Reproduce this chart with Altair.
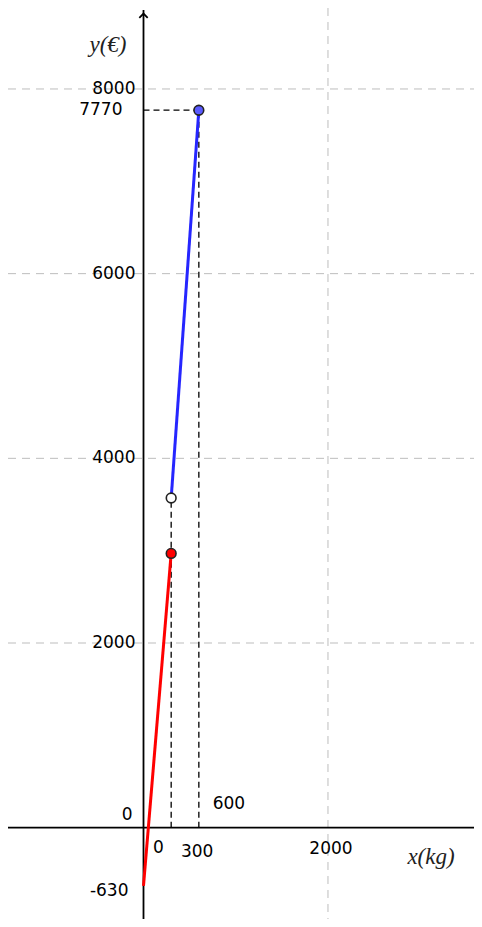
import altair as alt
import pandas as pd

# data
red_x = [0, 300]
red_y = [-630, 2970]
blue_x = [300, 600]
blue_y = [3570, 7770]
grid_y = [2000, 4000, 6000, 8000]
grid_x = [2000]
ytick_vals = [2000, 4000, 6000, 8000]
xtick_labels = ["0", "300", "600", "2000"]
xtick_vals = [0, 300, 600, 2000]
special_y = [7770, 0, -630]
special_y_labels = ["7770", "0", "-630"]

XMIN, XMAX = -1469, 3583
YMIN, YMAX = -989, 8877
W, H = 466, 911

xs = alt.Scale(domain=[XMIN, XMAX], nice=False, zero=False)
ys = alt.Scale(domain=[YMIN, YMAX], nice=False, zero=False)
X = lambda f: alt.X(f, type="quantitative", scale=xs, axis=None)
Y = lambda f: alt.Y(f, type="quantitative", scale=ys, axis=None)

FONT = "DejaVu Sans"
FS = 17

# grid lines
hgrid = alt.Chart(pd.DataFrame({"y": grid_y})).mark_rule(
    color="#bdbdbd", strokeWidth=1, strokeDash=[8, 6]
).encode(y=Y("y"), x=alt.value(0), x2=alt.value(W))
vgrid = alt.Chart(pd.DataFrame({"x": grid_x})).mark_rule(
    color="#bdbdbd", strokeWidth=1, strokeDash=[8, 6]
).encode(x=X("x"), y=alt.value(0), y2=alt.value(H))

# axes
xaxis = alt.Chart(pd.DataFrame({"y": [0]})).mark_rule(color="black", strokeWidth=1.8).encode(
    y=Y("y"), x=alt.value(0), x2=alt.value(W))
yaxis = alt.Chart(pd.DataFrame({"x": [0]})).mark_rule(color="black", strokeWidth=1.8).encode(
    x=X("x"), y=alt.value(2), y2=alt.value(H))
arrow = alt.Chart(pd.DataFrame({"x": [0]})).mark_point(
    shape="M-1,0.9L0,-0.1L1,0.9", filled=False, color="black", strokeWidth=1.8, size=70, opacity=1
).encode(x=X("x"), y=alt.value(6))

# dashed helper lines
dash_df = pd.DataFrame({
    "x": [red_x[1], blue_x[1], 0],
    "x2": [red_x[1], blue_x[1], blue_x[1]],
    "y": [0, 0, blue_y[1]],
    "y2": [blue_y[0], blue_y[1], blue_y[1]],
})
dashes = alt.Chart(dash_df).mark_rule(color="black", strokeWidth=1.3, strokeDash=[6, 4]).encode(
    x=X("x"), x2="x2", y=Y("y"), y2="y2")

# segments
red_line = alt.Chart(pd.DataFrame({"x": red_x, "y": red_y})).mark_line(
    color="#ff0000", strokeWidth=3).encode(x=X("x"), y=Y("y"))
blue_line = alt.Chart(pd.DataFrame({"x": blue_x, "y": blue_y})).mark_line(
    color="#2626ff", strokeWidth=3).encode(x=X("x"), y=Y("y"))

# points
pts_df = pd.DataFrame({
    "x": [red_x[1], blue_x[0], blue_x[1]],
    "y": [red_y[1], blue_y[0], blue_y[1]],
    "fill": ["#ff0000", "#ffffff", "#5a5aff"],
})
pts = alt.Chart(pts_df).mark_point(filled=True, size=95, stroke="#222222", strokeWidth=1.6, opacity=1).encode(
    x=X("x"), y=Y("y"), fill=alt.Fill("fill:N", scale=None))

# y tick labels
ytl = alt.Chart(pd.DataFrame({"y": ytick_vals, "t": [str(v) for v in ytick_vals], "x": [0] * 4})).mark_text(
    align="right", baseline="middle", dx=-8, font=FONT, fontSize=FS, color="black"
).encode(x=X("x"), y=Y("y"), text="t:N")

sp_df = pd.DataFrame({"x": [0, 0, 0], "y": special_y, "t": special_y_labels,
                      "dx": [-21, -11, -15], "dy": [0, -13, 5]})
sp_layers = []
for i in range(len(sp_df)):
    r = sp_df.iloc[[i]]
    sp_layers.append(alt.Chart(r).mark_text(
        align="right", baseline="middle", dx=int(r["dx"].iloc[0]), dy=int(r["dy"].iloc[0]),
        font=FONT, fontSize=FS, color="black").encode(x=X("x"), y=Y("y"), text="t:N"))

# x tick labels
x_offsets = [(15, 20), (26, 24), (30, -24), (3, 21)]
xl_layers = []
for lab, v, (dx, dy) in zip(xtick_labels, xtick_vals, x_offsets):
    xl_layers.append(alt.Chart(pd.DataFrame({"x": [v], "y": [0], "t": [lab]})).mark_text(
        align="center", baseline="middle", dx=dx, dy=dy, font=FONT, fontSize=FS, color="black"
    ).encode(x=X("x"), y=Y("y"), text="t:N"))

# axis titles
ytitle = alt.Chart(pd.DataFrame({"t": ["y(€)"]})).mark_text(
    font="Liberation Serif", fontStyle="italic", fontSize=23, align="center", baseline="middle", color="#222222"
).encode(x=alt.value(100), y=alt.value(37), text="t:N")
xtitle = alt.Chart(pd.DataFrame({"t": ["x(kg)"]})).mark_text(
    font="Liberation Serif", fontStyle="italic", fontSize=23, align="center", baseline="middle", color="#222222"
).encode(x=alt.value(423), y=alt.value(849), text="t:N")

chart = alt.layer(
    hgrid, vgrid, dashes, xaxis, yaxis, arrow, red_line, blue_line, pts, ytl,
    *sp_layers, *xl_layers, ytitle, xtitle
).properties(width=W, height=H, padding=0, autosize="none").configure_view(stroke=None)

chart.save("out.html", embed_options={"renderer": "svg", "actions": False})
